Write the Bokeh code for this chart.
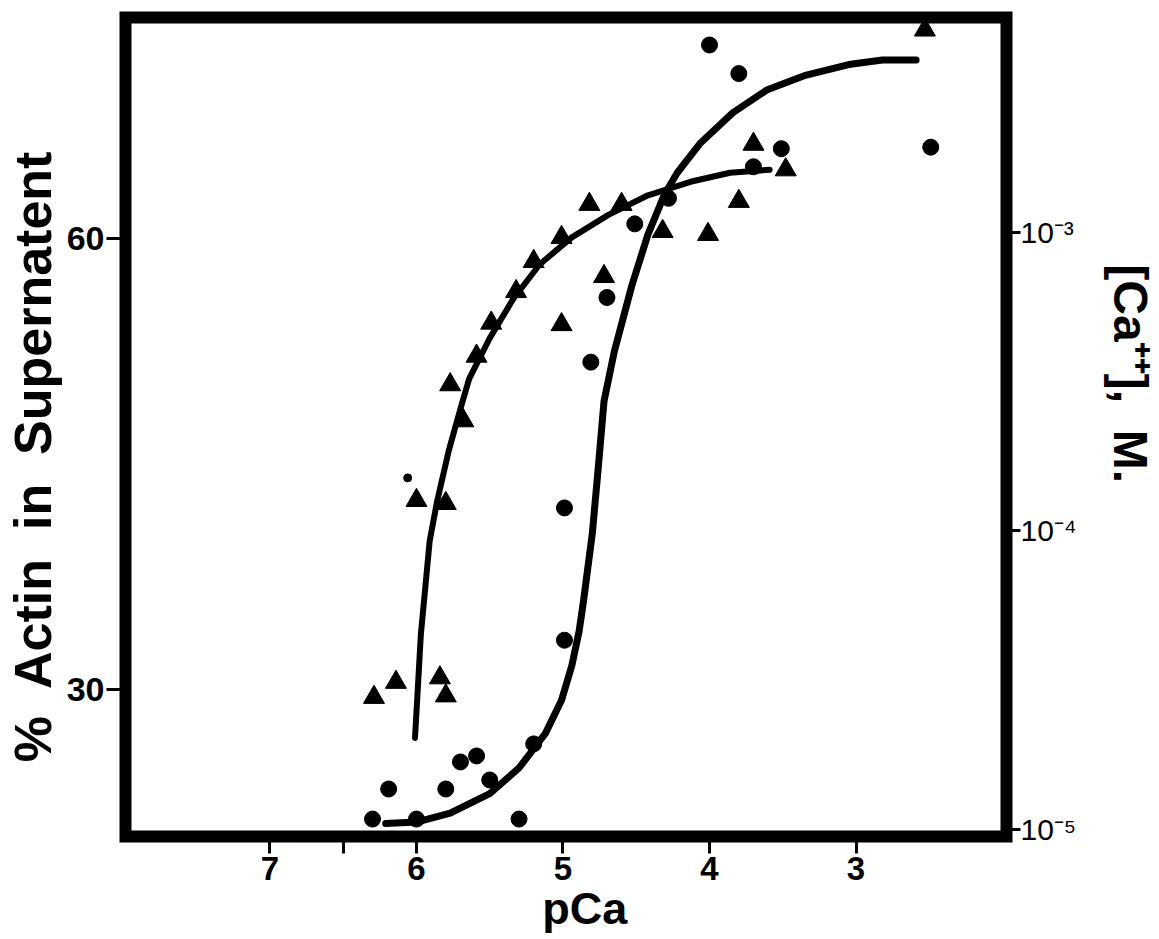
from bokeh.plotting import figure
from bokeh.models import Range1d, LinearAxis, FixedTicker
from bokeh.embed import file_html
from bokeh.resources import INLINE

# ---- data ----
circle_pca = [6.30, 6.19, 6.00, 5.80, 5.70, 5.59, 5.50, 5.30, 5.20, 4.99, 4.99,
              4.81, 4.70, 4.51, 4.28, 4.00, 3.80, 3.70, 3.51, 2.49]
circle_pct = [21.4, 23.4, 21.4, 23.4, 25.2, 25.6, 24.0, 21.4, 26.4, 33.3, 42.1,
              51.8, 56.1, 61.0, 62.7, 72.9, 71.0, 64.8, 66.0, 66.1]

dot_pca = [6.06]
dot_pct = [44.1]

tri_pca = [6.29, 6.14, 5.84, 5.80, 6.00, 5.80, 5.68, 5.77, 5.59, 5.49, 5.32, 5.20,
           5.01, 5.01, 4.82, 4.72, 4.60, 4.32, 4.01, 3.80, 3.70, 3.48, 2.53]
tri_pct = [29.5, 30.5, 30.8, 29.6, 42.6, 42.4, 47.9, 50.3, 52.2, 54.4, 56.5, 58.5,
           60.1, 54.3, 62.3, 57.5, 62.3, 60.5, 60.3, 62.5, 66.3, 64.6, 73.9]

tri_curve_pca = [6.01, 5.97, 5.91, 5.86, 5.78, 5.70, 5.64, 5.50, 5.34, 5.16, 4.94,
                 4.69, 4.42, 4.13, 3.86, 3.59]
tri_curve_pct = [26.8, 33.7, 39.9, 42.5, 45.9, 48.7, 50.7, 53.4, 56.0, 58.3, 60.1,
                 61.6, 62.9, 63.8, 64.4, 64.6]

circ_curve_pca = [6.21, 6.00, 5.77, 5.50, 5.30, 5.12, 5.01, 4.94, 4.89, 4.86, 4.80,
                  4.76, 4.72, 4.65, 4.53, 4.42, 4.31, 4.22, 4.06, 3.84, 3.61, 3.34,
                  3.05, 2.82, 2.59]
circ_curve_pct = [21.1, 21.2, 21.8, 23.1, 24.8, 27.1, 29.3, 31.6, 33.9, 35.9, 40.4,
                  44.7, 49.2, 52.5, 56.9, 60.3, 62.9, 64.4, 66.4, 68.4, 69.9, 70.9,
                  71.6, 71.9, 71.9]

x_ticks = [7, 6.5, 6, 5, 4, 3]
y_ticks = [30, 60]
ca_ticks = [-5, -4, -3]
ca_labels = {-5: "10\u207b\u2075", -4: "10\u207b\u2074", -3: "10\u207b\u00b3"}

FONT = "Liberation Sans"
NB = "\u00a0"

p = figure(width=1159, height=939, output_backend="svg", toolbar_location=None,
           x_range=Range1d(7.986, 1.973), y_range=Range1d(20.24, 74.73),
           min_border_left=119, min_border_right=150, min_border_top=17,
           min_border_bottom=103)
p.extra_y_ranges = {"ca": Range1d(-5.023, -2.282)}

p.grid.visible = False
p.background_fill_color = "white"
p.border_fill_color = "white"
p.outline_line_color = "black"
p.outline_line_width = 12
p.outline_line_join = "miter"

# bottom axis
xa = p.xaxis[0]
xa.ticker = FixedTicker(ticks=x_ticks)
xa.major_label_overrides = {6.5: ""}
xa.axis_line_color = None
xa.major_tick_in = 0
xa.major_tick_out = 17
xa.major_tick_line_width = 3
xa.minor_tick_line_color = None
xa.major_label_standoff = 3
xa.major_label_text_font = FONT
xa.major_label_text_font_style = "bold"
xa.major_label_text_font_size = "33px"
xa.major_label_text_color = "black"
xa.axis_label = NB * 3 + "pCa"
xa.axis_label_standoff = 0
xa.axis_label_text_font = FONT
xa.axis_label_text_font_style = "bold"
xa.axis_label_text_font_size = "45px"
xa.axis_label_text_color = "black"

# left axis
ya = p.yaxis[0]
ya.ticker = FixedTicker(ticks=y_ticks)
ya.axis_line_color = None
ya.major_tick_in = 0
ya.major_tick_out = 19
ya.major_tick_line_width = 3
ya.minor_tick_line_color = None
ya.major_label_standoff = 2
ya.major_label_text_font = FONT
ya.major_label_text_font_style = "bold"
ya.major_label_text_font_size = "34px"
ya.major_label_text_color = "black"
ya.axis_label = "%" + NB + " Actin" + NB + " in" + NB + " Supernatent" + NB * 4
ya.axis_label_standoff = 2
ya.axis_label_text_font = FONT
ya.axis_label_text_font_style = "bold"
ya.axis_label_text_font_size = "52px"
ya.axis_label_text_color = "black"

# right log-concentration axis (drawn as log10 values)
ra = LinearAxis(y_range_name="ca", ticker=FixedTicker(ticks=ca_ticks),
                major_label_overrides=ca_labels)
ra.axis_line_color = None
ra.major_tick_in = 0
ra.major_tick_out = 14
ra.major_tick_line_width = 3
ra.minor_tick_line_color = None
ra.major_label_standoff = 0
ra.major_label_text_font = FONT
ra.major_label_text_font_size = "30px"
ra.major_label_text_color = "black"
ra.axis_label = "[Ca\u207a\u207a]," + NB + " M." + NB * 8
ra.axis_label_standoff = 24
ra.axis_label_text_font = FONT
ra.axis_label_text_font_style = "bold"
ra.axis_label_text_font_size = "48px"
ra.axis_label_text_color = "black"
p.add_layout(ra, "right")

# curves
p.line(circ_curve_pca, circ_curve_pct, line_color="black", line_width=7,
       line_cap="round", line_join="round")
p.line(tri_curve_pca, tri_curve_pct, line_color="black", line_width=6,
       line_cap="round", line_join="round")

# points
p.scatter(circle_pca, circle_pct, marker="circle", size=16, color="black")
p.scatter(dot_pca, dot_pct, marker="circle", size=8, color="black")
p.scatter(tri_pca, tri_pct, marker="triangle", size=21, color="black")

open("out.html", "w").write(file_html(p, INLINE))
